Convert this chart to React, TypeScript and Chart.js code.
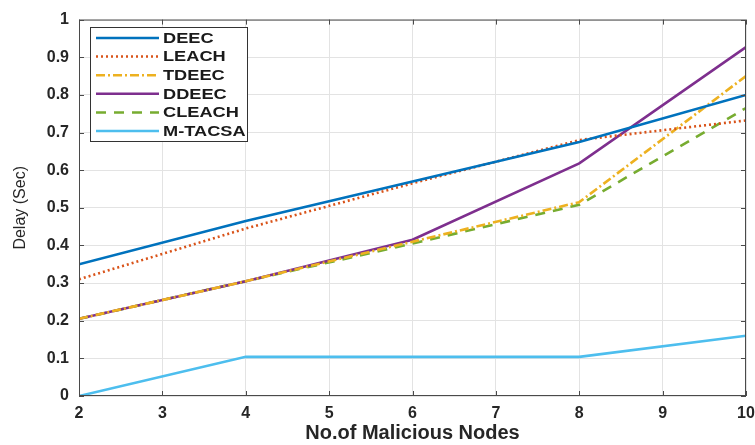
import React, { useEffect, useRef } from "react";
import { Chart, registerables } from "chart.js";

Chart.register(...registerables);

// Number of malicious nodes on the x axis
const nodes = [2, 4, 6, 8, 10];

// Delay (s) per protocol
const deec = [0.35, 0.465, 0.57, 0.675, 0.8];
const leach = [0.31, 0.445, 0.565, 0.68, 0.732];
const tdeec = [0.205, 0.305, 0.41, 0.515, 0.85];
const ddeec = [0.205, 0.305, 0.415, 0.618, 0.927];
const cleach = [0.205, 0.305, 0.405, 0.508, 0.765];
const mtacsa = [0, 0.104, 0.104, 0.104, 0.16];

const seriesNames = ["DEEC", "LEACH", "TDEEC", "DDEEC", "CLEACH", "M-TACSA"];
const seriesValues = [deec, leach, tdeec, ddeec, cleach, mtacsa];
const seriesColors = ["#0072BD", "#D95319", "#EDB120", "#7E2F8E", "#77AC30", "#4DBEEE"];
const seriesDashes: number[][] = [[], [2, 3], [9, 3, 2, 3], [], [10, 8], []];

const xTicks = [2, 3, 4, 5, 6, 7, 8, 9, 10];
const yTicks = [0, 0.1, 0.2, 0.3, 0.4, 0.5, 0.6, 0.7, 0.8, 0.9, 1];

const FONT = "'Liberation Sans', Arial, sans-serif";

// Axes frame with inward tick marks, plus the boxed legend in the upper left
const framePlugin = {
  id: "frameAndLegend",
  afterDraw(chart: any) {
    const { ctx, chartArea: a, scales } = chart;
    const xs = scales.x;
    const ys = scales.y;
    ctx.save();
    ctx.strokeStyle = "#4a4a4a";
    ctx.lineWidth = 1;
    ctx.strokeRect(a.left + 0.5, a.top + 0.5, a.right - a.left - 1, a.bottom - a.top - 1);
    ctx.beginPath();
    const t = 5;
    xTicks.forEach((v) => {
      const px = Math.round(xs.getPixelForValue(v)) + 0.5;
      ctx.moveTo(px, a.bottom);
      ctx.lineTo(px, a.bottom - t);
      ctx.moveTo(px, a.top);
      ctx.lineTo(px, a.top + t);
    });
    yTicks.forEach((v) => {
      const py = Math.round(ys.getPixelForValue(v)) + 0.5;
      ctx.moveTo(a.left, py);
      ctx.lineTo(a.left + t, py);
      ctx.moveTo(a.right, py);
      ctx.lineTo(a.right - t, py);
    });
    ctx.stroke();

    // legend
    const bx = 90;
    const by = 27;
    const bw = 157;
    const bh = 114;
    ctx.fillStyle = "#ffffff";
    ctx.fillRect(bx, by, bw, bh);
    ctx.strokeStyle = "#333333";
    ctx.lineWidth = 1;
    ctx.strokeRect(bx + 0.5, by + 0.5, bw, bh);
    seriesNames.forEach((name, i) => {
      const y = 38 + i * 18.6;
      ctx.beginPath();
      ctx.strokeStyle = seriesColors[i];
      ctx.lineWidth = 2.5;
      ctx.setLineDash(seriesDashes[i]);
      ctx.moveTo(96, y);
      ctx.lineTo(159, y);
      ctx.stroke();
      ctx.setLineDash([]);
      ctx.save();
      ctx.translate(163, y);
      ctx.scale(1.3, 1);
      ctx.fillStyle = "#1a1a1a";
      ctx.font = `bold 14px ${FONT}`;
      ctx.textBaseline = "middle";
      ctx.textAlign = "left";
      ctx.fillText(name, 0, 1);
      ctx.restore();
    });
    ctx.restore();
  },
};

export default function App() {
  const ref = useRef<HTMLCanvasElement>(null);

  useEffect(() => {
    document.body.style.margin = "0";
    const canvas = ref.current;
    if (!canvas) return;
    const chart = new Chart(canvas, {
      type: "line",
      data: {
        datasets: seriesNames.map((name, i) => ({
          label: name,
          data: nodes.map((n, j) => ({ x: n, y: seriesValues[i][j] })),
          borderColor: seriesColors[i],
          backgroundColor: seriesColors[i],
          borderDash: seriesDashes[i],
          borderWidth: 2.6,
          pointRadius: 0,
          tension: 0,
          fill: false,
        })),
      },
      options: {
        animation: false,
        responsive: false,
        maintainAspectRatio: false,
        layout: { padding: { top: 15, right: 9, left: 0, bottom: 0 } },
        plugins: {
          legend: { display: false },
          tooltip: { enabled: false },
        },
        scales: {
          x: {
            type: "linear",
            min: 2,
            max: 10,
            afterFit: (s: any) => {
              s.height = 49;
              s.paddingLeft = 0;
              s.paddingRight = 0;
            },
            afterBuildTicks: (s: any) => {
              s.ticks = xTicks.map((v) => ({ value: v }));
            },
            ticks: {
              color: "#262626",
              font: { family: FONT, size: 16, weight: "bold" },
              padding: 8,
              maxRotation: 0,
              autoSkip: false,
            },
            grid: { color: "#e3e3e3", drawTicks: false, lineWidth: 1 },
            border: { display: false },
            title: {
              display: true,
              text: "No.of Malicious Nodes",
              color: "#262626",
              font: { family: FONT, size: 20, weight: "bold" },
              padding: { top: 0, bottom: 0 },
            },
          },
          y: {
            type: "linear",
            min: 0,
            max: 1,
            afterFit: (s: any) => {
              s.width = 79;
            },
            afterBuildTicks: (s: any) => {
              s.ticks = yTicks.map((v) => ({ value: v }));
            },
            ticks: {
              color: "#262626",
              font: { family: FONT, size: 16, weight: "bold" },
              padding: 10,
              autoSkip: false,
              callback: (v: any) => String(Math.round(Number(v) * 10) / 10),
            },
            grid: { color: "#e3e3e3", drawTicks: false, lineWidth: 1 },
            border: { display: false },
            title: {
              display: true,
              text: "Delay (Sec)",
              color: "#262626",
              font: { family: FONT, size: 16 },
              padding: { top: 11, bottom: 0 },
            },
          },
        },
      },
      plugins: [framePlugin],
    });
    return () => chart.destroy();
  }, []);

  return (
    <div style={{ position: "fixed", left: 0, top: 0, width: 755, height: 445, background: "#fff" }}>
      <canvas ref={ref} width={755} height={445} style={{ width: 755, height: 445 }} />
    </div>
  );
}
